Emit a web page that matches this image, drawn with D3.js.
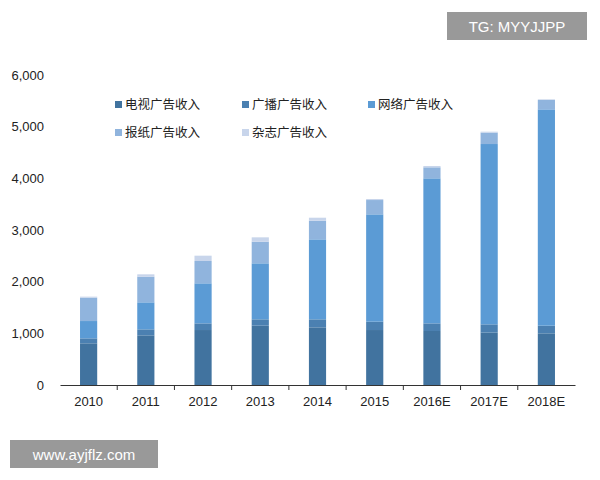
<!DOCTYPE html><html><head><meta charset="utf-8"><script src="https://cdn.jsdelivr.net/npm/d3@7"></script>
<style>body{margin:0;background:#fff}</style></head><body><svg id="c" width="600" height="480"></svg>
<script>
const categories=["2010","2011","2012","2013","2014","2015","2016E","2017E","2018E"];
const seriesNames=["电视广告收入","广播广告收入","网络广告收入","报纸广告收入","杂志广告收入"];
const tv=[807,961,1064,1148,1116,1064,1045,1013,1000];
const radio=[96,116,129,123,155,161,148,161,148];
const net=[335,523,775,1084,1548,2078,2807,3490,4187];
const paper=[452,497,432,419,361,277,213,220,181];
const mag=[20,45,103,84,58,20,26,19,13];
const yTicks=[0,1000,2000,3000,4000,5000,6000];
const colors=["#41739f","#4b80b1","#5b9bd5","#90b4dd","#c8d5eb"];
const svg=d3.select("#c");
const x=d3.scaleBand().domain(categories).range([60,575]).paddingInner(0.7).paddingOuter(0.35);
const y=d3.scaleLinear().domain([0,6000]).range([385,75]);
const rows=categories.map((c,i)=>({c,s0:tv[i],s1:radio[i],s2:net[i],s3:paper[i],s4:mag[i]}));
const stack=d3.stack().keys(["s0","s1","s2","s3","s4"])(rows);
svg.append("g").selectAll("g").data(stack).join("g").attr("fill",(d,i)=>colors[i])
 .selectAll("rect").data(d=>d).join("rect").attr("x",d=>x(d.data.c)).attr("width",x.bandwidth())
 .attr("y",d=>y(d[1])).attr("height",d=>y(d[0])-y(d[1]));
const ya=svg.append("g").attr("transform","translate(60,0)").call(d3.axisLeft(y).tickValues(yTicks).tickFormat(d3.format(",")).tickSize(0).tickPadding(16));
ya.select(".domain").remove();
ya.selectAll("text").attr("font-family","Arial, Liberation Sans").attr("font-size",13).attr("fill","#222");
const xa=svg.append("g").attr("transform","translate(0,385)").call(d3.axisBottom(x).tickSize(0).tickPadding(12));
xa.select(".domain").attr("stroke","#333");
xa.selectAll("text").attr("font-family","Arial, Liberation Sans").attr("font-size",13).attr("fill","#222");
const step=x.step(), bw=x.bandwidth();
const bounds=categories.slice(1).map(c=>x(c)+bw/2-step/2);
xa.selectAll(".b").data(bounds).join("line").attr("x1",d=>d).attr("x2",d=>d).attr("y1",0).attr("y2",5).attr("stroke","#333");
const lg=svg.append("g").attr("font-family","Noto Sans CJK SC").attr("font-size",12.5).attr("fill","#222");
const lpos=[[115,105],[242,105],[368,105],[115,133],[242,133]];
seriesNames.forEach((n,i)=>{lg.append("rect").attr("x",lpos[i][0]).attr("y",lpos[i][1]-4).attr("width",7).attr("height",7).attr("fill",colors[i]);
 lg.append("text").attr("x",lpos[i][0]+10).attr("y",lpos[i][1]+4).text(n);});
svg.append("rect").attr("x",447).attr("y",12).attr("width",140).attr("height",28).attr("fill","#999");
svg.append("text").attr("x",517).attr("y",32).attr("text-anchor","middle").attr("fill","#fff").attr("font-family","Arial, Liberation Sans").attr("font-size",15).text("TG: MYYJJPP");
svg.append("rect").attr("x",10).attr("y",440).attr("width",148).attr("height",28).attr("fill","#999");
svg.append("text").attr("x",84).attr("y",460).attr("text-anchor","middle").attr("fill","#fff").attr("font-family","Arial, Liberation Sans").attr("font-size",15).text("www.ayjflz.com");
</script></body></html>
